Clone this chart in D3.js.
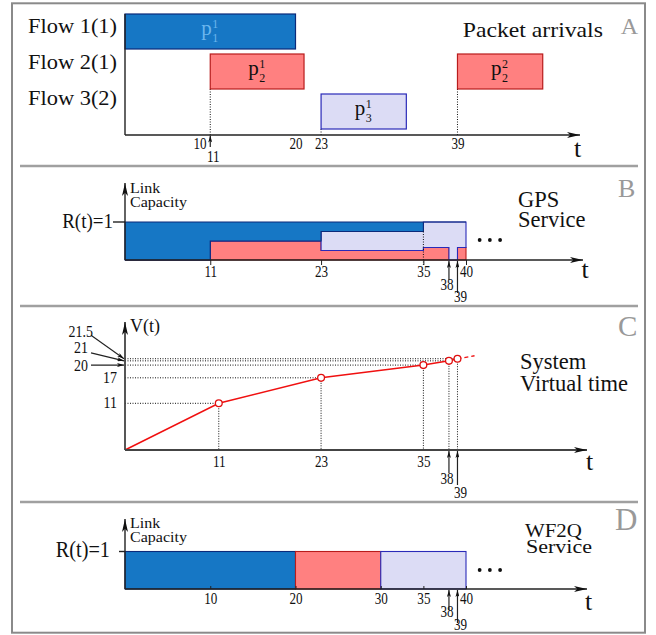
<!DOCTYPE html>
<meta charset="utf-8">
<style>
  body { margin: 0; background: #fff; }
  svg text { font-family: "Liberation Serif", "DejaVu Serif", serif; }
</style>
<body>
<div id="chart"></div>
<script src="https://d3js.org/d3.v7.min.js"></script>
<script>
// ---- data ----
const flowNames = ["Flow 1(1)", "Flow 2(1)", "Flow 3(2)"];
const flowFill = ["#1677c5", "#ff8080", "#dcdcf5"];
const flowStroke = ["#0b2a7a", "#b81c1c", "#2a2ab8"];

// A: packet arrivals (flow index, start, end in t units as drawn)
const arrivalFlow = [0, 1, 2, 1];
const arrivalStart = [0, 10, 23, 39];
const arrivalEnd = [20, 21, 33, 49];
const arrivalSup = ["1", "1", "1", "2"];
const arrivalSub = ["1", "2", "3", "2"];
const arrivalTicks = [10, 20, 23, 39];

// B: GPS service shares per interval (step after)
const gpsTimes = [0, 10, 23, 35, 38, 39, 40];
const gpsFlow1 = [1, 0.5, 0.25, 0, 0, 0, 0];
const gpsFlow2 = [0, 0.5, 0.25, 0.33, 0, 0.33, 0.33];
const gpsFlow3 = [0, 0, 0.5, 0.67, 1, 0.67, 0.67];
const gpsTicks = [10, 23, 35, 40];
const gpsTickLabels = ["11", "23", "35", "40"];

// C: system virtual time
const vtTimes = [0, 11, 23, 35, 38, 39];
const vtValues = [0, 11, 17, 20, 21, 21.5];
const vtTailTimes = [39, 41];
const vtTailValues = [21.5, 22.2];
const vtTicks = [11, 23, 35];

// D: WF2Q service order
const wf2qFlow = [0, 1, 2];
const wf2qStart = [0, 20, 30];
const wf2qEnd = [20, 30, 40];
const wf2qTicks = [10, 20, 30, 35, 40];

const lateArrivals = [38, 39];
const ellipsisT = [41.6, 42.8, 44.0];

// ---- setup ----
const svg = d3.select("#chart").append("svg").attr("width", 656).attr("height", 635);
const defs = svg.append("defs");

function marker(id, len, wid) {
  defs.append("marker").attr("id", id)
    .attr("viewBox", `0 0 ${len} ${wid}`)
    .attr("refX", len).attr("refY", wid / 2)
    .attr("markerWidth", len).attr("markerHeight", wid)
    .attr("markerUnits", "userSpaceOnUse").attr("orient", "auto")
    .append("path")
    .attr("d", `M0,0L${len},${wid / 2}L0,${wid}L${len * 0.25},${wid / 2}Z`)
    .attr("fill", "#111");
}
marker("arrow", 13, 6);
marker("tip", 7, 4);

function line(g, x1, y1, x2, y2, opts = {}) {
  const l = g.append("line").attr("x1", x1).attr("y1", y1).attr("x2", x2).attr("y2", y2)
    .attr("stroke", opts.stroke || "#222").attr("stroke-width", opts.width || 1.4);
  if (opts.dash) l.attr("stroke-dasharray", opts.dash);
  if (opts.marker) l.attr("marker-end", `url(#${opts.marker})`);
  return l;
}
function dotted(g, x1, y1, x2, y2) {
  return line(g, x1, y1, x2, y2, { width: 1, dash: "1,1.5", stroke: "#111" });
}
function label(g, x, y, txt, size, opts = {}) {
  return g.append("text")
    .attr("transform", `translate(${x},${y}) scale(${opts.sx || 1},1)`)
    .attr("font-size", size)
    .attr("text-anchor", opts.anchor || "start")
    .attr("fill", opts.fill || "#111")
    .text(txt);
}
function styleAxis(g, dy) {
  g.select(".domain").remove();
  g.attr("font-family", null).attr("font-size", 16);
  g.selectAll("line").attr("stroke", "#222");
  g.selectAll("text").attr("y", dy).attr("dy", null).attr("fill", "#111")
    .attr("transform", "scale(0.82,1)");
}
function lateMarks(g, y0, len, lab) {
  lateArrivals.forEach((t, i) => {
    line(g, x(t), y0 + len[i], x(t), y0 + 1, { width: 1.2, marker: "tip" });
    label(g, x(t) + (i ? 3 : -2), y0 + lab[i], String(t), 16, { anchor: "middle", sx: 0.82 });
  });
}
function ellipsis(g, y) {
  g.selectAll("circle.dot").data(ellipsisT).join("circle").attr("class", "dot")
    .attr("cx", d => x(d)).attr("cy", y).attr("r", 1.9).attr("fill", "#111");
}

// frame and panel separators
svg.append("rect").attr("x", 12).attr("y", 3.3).attr("width", 633).attr("height", 629.4)
  .attr("fill", "none").attr("stroke", "#8a8a8a").attr("stroke-width", 2);
[166, 306, 502].forEach(y => line(svg, 20, y, 638, y, { stroke: "#a0a0a0", width: 2.5 }));

const x = d3.scaleLinear().domain([0, 40]).range([125, 466]);

// ---- A: packet arrivals ----
const gA = svg.append("g");
const rowY = d3.scaleBand().domain([0, 1, 2]).range([14, 129]).paddingInner(0.125);
const flowLabelY = d3.scalePoint().domain([0, 1, 2]).range([33.3, 105]);
const arrivals = arrivalStart.map((s, i) => ({
  flow: arrivalFlow[i], start: s, end: arrivalEnd[i], sup: arrivalSup[i], sub: arrivalSub[i]
}));

flowNames.forEach((n, i) => label(gA, 117, flowLabelY(i), n, 20, { anchor: "end", sx: 1.12 }));

arrivals.filter(d => d.start > 0).forEach(d =>
  dotted(gA, x(d.start), rowY(d.flow) + rowY.bandwidth(), x(d.start), 135));

gA.selectAll("rect.pkt").data(arrivals).join("rect").attr("class", "pkt")
  .attr("x", d => x(d.start)).attr("y", d => rowY(d.flow))
  .attr("width", d => x(d.end) - x(d.start)).attr("height", rowY.bandwidth())
  .attr("fill", d => flowFill[d.flow]).attr("stroke", d => flowStroke[d.flow]).attr("stroke-width", 1.2);

arrivals.forEach(d => {
  const cx = (x(d.start) + x(d.end)) / 2 + 1.5, top = rowY(d.flow);
  const fill = d.flow === 0 ? "#6bb6ee" : "#111";
  label(gA, cx, top + 21, "p", 21, { anchor: "end", fill });
  label(gA, cx + 0.5, top + 14, d.sup, 12, { fill });
  label(gA, cx + 0.5, top + 27.5, d.sub, 12, { fill });
});

line(gA, 125, 14, 125, 135);
line(gA, 125, 135, 580, 135, { marker: "arrow" });
gA.append("g").attr("transform", "translate(0,135)")
  .call(d3.axisBottom(x).tickValues(arrivalTicks).tickSize(0))
  .call(g => styleAxis(g, 14.5))
  .call(g => g.selectAll("text").filter(d => d === 10).attr("text-anchor", "end").attr("x", -5));
line(gA, x(10), 147, x(10), 135.5, { width: 1.2, marker: "tip" });
label(gA, x(10) + 3, 162, "11", 16, { anchor: "middle", sx: 0.82 });

label(gA, 462.7, 36.7, "Packet arrivals", 21, { sx: 1.13 });
label(gA, 577.5, 157, "t", 26, { anchor: "middle" });
label(gA, 620.7, 34, "A", 24, { fill: "#999" });

// ---- B: GPS service ----
const gB = svg.append("g");
const shareY = d3.scaleLinear().domain([0, 1]).range([260, 222]);
const gpsRows = gpsTimes.map((t, i) => ({ t, f1: gpsFlow1[i], f2: gpsFlow2[i], f3: gpsFlow3[i] }));
const stacked = d3.stack().keys(["f2", "f3", "f1"])(gpsRows);
const stackFlow = { f1: 0, f2: 1, f3: 2 };
const gpsArea = d3.area().curve(d3.curveStepAfter)
  .x(d => x(d.data.t)).y0(d => shareY(d[0])).y1(d => shareY(d[1]));
gB.selectAll("path.share").data(stacked).join("path").attr("class", "share")
  .attr("d", gpsArea)
  .attr("fill", s => flowFill[stackFlow[s.key]])
  .attr("stroke", s => flowStroke[stackFlow[s.key]])
  .attr("stroke-width", 1.1);
dotted(gB, x(35), shareY(gpsFlow2[2] + gpsFlow3[2]), x(35), 265);

line(gB, 125, 260, 125, 183, { marker: "arrow" });
line(gB, 113, 222, 125, 222);
line(gB, 125, 260, 583, 260, { marker: "arrow" });
gB.append("g").attr("transform", "translate(0,260)")
  .call(d3.axisBottom(x).tickValues(gpsTicks).tickSize(5).tickFormat((d, i) => gpsTickLabels[i]))
  .call(g => styleAxis(g, 17));
lateMarks(gB, 260, [20, 33], [30, 41.7]);
ellipsis(gB, 240);

label(gB, 130, 193, "Link", 15, { sx: 1.07 });
label(gB, 130, 206.7, "Capacity", 15, { sx: 1.07 });
label(gB, 113, 228, "R(t)=1", 20, { anchor: "end", sx: 0.95 });
label(gB, 518, 206.7, "GPS", 22.5);
label(gB, 518, 226.7, "Service", 22.5);
label(gB, 585, 278.3, "t", 26, { anchor: "middle" });
label(gB, 618, 197, "B", 26, { fill: "#999" });

// ---- C: system virtual time ----
const gC = svg.append("g");
const vY = d3.scaleLinear().domain([0, 11]).range([450, 403.3]);
const vtPts = vtTimes.map((t, i) => [t, vtValues[i]]);

vtPts.slice(1).forEach(([t, v]) => {
  dotted(gC, 125, vY(v), x(t), vY(v));
  dotted(gC, x(t), vY(v), x(t), 450);
});

const vLine = d3.line().x(d => x(d[0])).y(d => vY(d[1]));
gC.append("path").attr("d", vLine(vtPts)).attr("fill", "none")
  .attr("stroke", "#f01010").attr("stroke-width", 1.5);
gC.append("path").attr("d", vLine(vtTailTimes.map((t, i) => [t, vtTailValues[i]])))
  .attr("fill", "none").attr("stroke", "#f01010").attr("stroke-width", 1.3).attr("stroke-dasharray", "4,3");
gC.selectAll("circle.pt").data(vtPts.slice(1)).join("circle").attr("class", "pt")
  .attr("cx", d => x(d[0])).attr("cy", d => vY(d[1])).attr("r", 3.4)
  .attr("fill", "#fff").attr("stroke", "#e01010").attr("stroke-width", 1.3);

line(gC, 125, 450, 125, 322, { marker: "arrow", stroke: "#444", width: 1.8 });
line(gC, 125, 450, 587, 450, { marker: "arrow", stroke: "#444", width: 1.8 });
gC.append("g").attr("transform", "translate(0,450)")
  .call(d3.axisBottom(x).tickValues(vtTicks).tickSize(0))
  .call(g => styleAxis(g, 16.7));
lateMarks(gC, 450, [23, 35], [34, 47.7]);

// value labels: 11 and 17 beside the axis, 20 / 21 / 21.5 with leader arrows
vtValues.filter(v => v > 0 && v < 20).forEach(v =>
  label(gC, 117, vY(v) + 5, String(v), 17, { anchor: "end", sx: 0.82 }));
const leaderDy = [0, -8, -23.5], leaderLab = [5.8, 0.3, 1.8], leaderRight = [88, 88, 93];
vtValues.filter(v => v >= 20).forEach((v, i) => {
  const sy = vY(v) + leaderDy[i];
  line(gC, 91, sy, 124, vY(v), { width: 1.1, marker: "tip" });
  label(gC, leaderRight[i], sy + leaderLab[i], String(v), 17, { anchor: "end", sx: 0.82 });
});

label(gC, 130, 331.7, "V(t)", 18);
label(gC, 520, 369, "System", 22.5);
label(gC, 520, 391, "Virtual time", 22.5);
label(gC, 589.5, 470, "t", 26, { anchor: "middle" });
label(gC, 618, 335.7, "C", 29, { fill: "#999" });

// ---- D: WF2Q service ----
const gD = svg.append("g");
const capY = d3.scaleLinear().domain([0, 1]).range([589, 551.5]);
const served = wf2qStart.map((s, i) => ({ flow: wf2qFlow[i], start: s, end: wf2qEnd[i] }));
gD.selectAll("rect.srv").data(served).join("rect").attr("class", "srv")
  .attr("x", d => x(d.start)).attr("y", capY(1))
  .attr("width", d => x(d.end) - x(d.start)).attr("height", capY(0) - capY(1))
  .attr("fill", d => flowFill[d.flow]).attr("stroke", d => flowStroke[d.flow]).attr("stroke-width", 1.1);

line(gD, 125, 589, 125, 519, { marker: "arrow" });
line(gD, 119, 551.5, 125, 551.5);
line(gD, 125, 589, 587, 589, { marker: "arrow" });
gD.append("g").attr("transform", "translate(0,589)")
  .call(d3.axisBottom(x).tickValues(wf2qTicks).tickSize(-3))
  .call(g => styleAxis(g, 15));
lateMarks(gD, 589, [21, 34], [27.7, 41]);
ellipsis(gD, 570);

label(gD, 130, 528, "Link", 15, { sx: 1.07 });
label(gD, 130, 541.7, "Capacity", 15, { sx: 1.07 });
label(gD, 110, 557.3, "R(t)=1", 23, { anchor: "end", sx: 0.88 });
label(gD, 525, 537, "WF2Q", 19, { sx: 1.1 });
label(gD, 526, 553, "Service", 19, { sx: 1.16 });
label(gD, 588.5, 610, "t", 26, { anchor: "middle" });
label(gD, 615, 530, "D", 31, { fill: "#999" });
</script>
</body>
